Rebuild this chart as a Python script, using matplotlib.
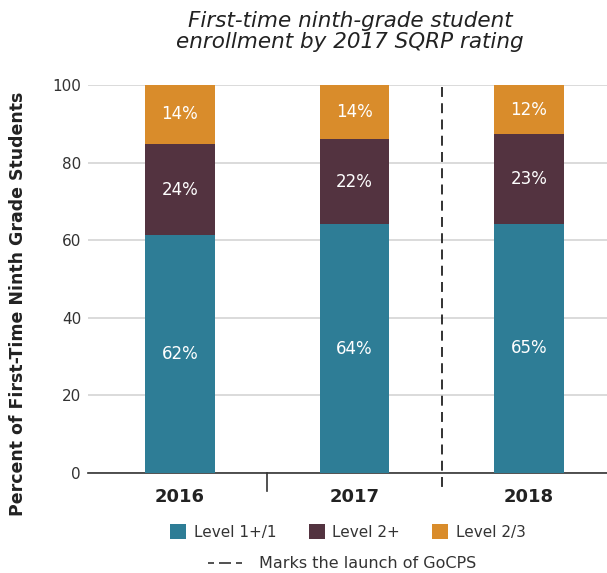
import matplotlib
matplotlib.use("Agg")
import matplotlib.pyplot as plt
from matplotlib.patches import Patch
from matplotlib.lines import Line2D
import numpy as np

plt.rcParams['font.family'] = ['DejaVu Sans']

years = ["2016", "2017", "2018"]
level1 = [61.3, 64.1, 64.3]
level2 = [23.5, 21.9, 23.0]
level3 = [15.2, 14.0, 12.7]
label1 = ["62%", "64%", "65%"]
label2 = ["24%", "22%", "23%"]
label3 = ["14%", "14%", "12%"]
series_names = ["Level 1+/1", "Level 2+", "Level 2/3"]
colors = ["#2E7D96", "#533340", "#D98C2B"]

W, H = 607, 573
fig = plt.figure(figsize=(W/100, H/100), dpi=100)
ax = fig.add_axes([88/W, 1-473/H, 1-88/W, (473-85)/H])

x = np.arange(len(years))
w = 0.40
ax.bar(x, level1, w, color=colors[0], zorder=3)
ax.bar(x, level2, w, bottom=level1, color=colors[1], zorder=3)
bottom3 = [a + b for a, b in zip(level1, level2)]
ax.bar(x, level3, w, bottom=bottom3, color=colors[2], zorder=3)

for i in range(len(years)):
    ax.text(x[i], level1[i]/2, label1[i], ha='center', va='center', color='white', fontsize=12, zorder=4)
    ax.text(x[i], level1[i] + level2[i]/2, label2[i], ha='center', va='center', color='white', fontsize=12, zorder=4)
    ax.text(x[i], bottom3[i] + level3[i]/2, label3[i], ha='center', va='center', color='white', fontsize=12, zorder=4)

ax.set_xlim(-0.527, 2.447)
ax.set_ylim(0, 100)
ax.set_yticks([0, 20, 40, 60, 80, 100])
ax.yaxis.grid(True, color='#d4d4d4', linewidth=1.2, zorder=0)
ax.set_axisbelow(True)
for s in ['top', 'right', 'left']:
    ax.spines[s].set_visible(False)
ax.spines['bottom'].set_color('#333333')
ax.spines['bottom'].set_linewidth(1.2)
ax.tick_params(axis='y', length=0, labelsize=11, labelcolor='#333333', pad=5)
ax.set_xticks(x)
ax.set_xticklabels(years, fontsize=13, fontweight='bold', color='#222222')
ax.tick_params(axis='x', length=0, pad=11)

trans = ax.get_xaxis_transform()
axh = (473-85)
ax.plot([0.5, 0.5], [0, -18/axh], transform=trans, color='#333333', lw=1.2, clip_on=False)
ax.plot([1.5, 1.5], [1.0 - 2/axh, -20/axh], transform=trans, color='#222222', lw=1.3,
        linestyle=(0, (5.5, 3.5)), clip_on=False, zorder=5)

fig.text(18/W, 1-304/H, "Percent of First-Time Ninth Grade Students", rotation=90,
         ha='center', va='center', fontsize=12.5, fontweight='bold', color='#222222')

fig.text(350/W, 1-31.5/H, "First-time ninth-grade student\nenrollment by 2017 SQRP rating",
         ha='center', va='center', fontsize=15.5, style='italic', fontweight='medium',
         color='#222222', linespacing=1.05)

handles = [Patch(facecolor=c, edgecolor='none') for c in colors]
leg = fig.legend(handles, series_names, loc='center', bbox_to_anchor=(348/W, 1-532/H), ncol=3,
                 frameon=False, fontsize=11, handlelength=1.05, handleheight=1.05,
                 columnspacing=2.1, handletextpad=0.5, borderpad=0, borderaxespad=0)
for t in leg.get_texts():
    t.set_color('#333333')
leg2 = fig.legend([Line2D([0], [0], color='#333333', lw=1.2, linestyle=(0, (3.6, 3, 7.2, 3)))],
                  ["Marks the launch of GoCPS"], loc='center', bbox_to_anchor=(342/W, 1-564/H),
                  frameon=False, fontsize=11.5, handlelength=2.3, handletextpad=0.9,
                  borderpad=0, borderaxespad=0)
for t in leg2.get_texts():
    t.set_color('#333333')

fig.savefig("out.png", dpi=100)
